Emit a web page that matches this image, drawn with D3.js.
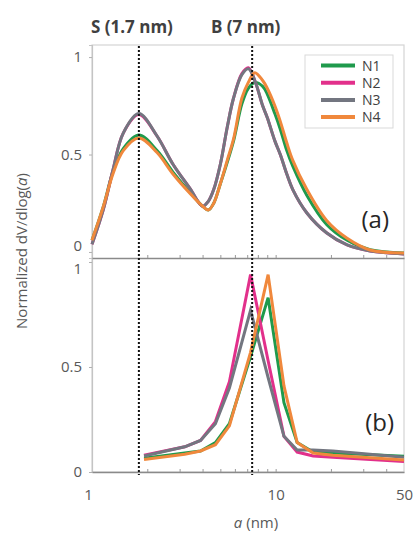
<!doctype html>
<html>
<head>
  <meta charset="UTF-8">
  <title>Pore size distribution</title>
  <script src="https://d3js.org/d3.v7.min.js"></script>
  <style>
    body { margin: 0; background: #fff; }
    text { font-family: "Open Sans", Lato, sans-serif; }
  </style>
</head>
<body>
<div id="svg_area"></div>
<script>
// series names and colours
var names = ["N1", "N2", "N3", "N4"];
var colours = ["#1f9a4c", "#e2308b", "#737680", "#f0883c"];

// panel (a): smooth distributions, pore width a (nm)
var aSmooth = [1, 1.15, 1.3, 1.48, 1.8, 2.26, 2.76, 3.42, 4.0, 4.3, 4.6, 5.0, 5.45, 5.9, 6.55, 7.1, 7.7, 8.5, 9.0, 9.9, 10.6, 11.5, 12.4, 14.8, 19, 24.5, 32.7, 50];
var smoothN1 = [0.06, 0.23, 0.41, 0.53, 0.60, 0.52, 0.41, 0.305, 0.235, 0.215, 0.25, 0.35, 0.46, 0.57, 0.76, 0.84, 0.87, 0.85, 0.81, 0.71, 0.63, 0.52, 0.44, 0.29, 0.14, 0.06, 0.012, -0.005];
var smoothN2 = [0.04, 0.215, 0.42, 0.61, 0.705, 0.595, 0.45, 0.325, 0.235, 0.26, 0.32, 0.45, 0.64, 0.79, 0.915, 0.945, 0.88, 0.75, 0.69, 0.57, 0.50, 0.40, 0.32, 0.20, 0.097, 0.036, 0.005, -0.01];
var smoothN3 = [0.04, 0.215, 0.42, 0.61, 0.71, 0.595, 0.45, 0.325, 0.235, 0.26, 0.32, 0.45, 0.64, 0.79, 0.91, 0.94, 0.88, 0.75, 0.69, 0.57, 0.50, 0.40, 0.32, 0.20, 0.097, 0.036, 0.005, -0.01];
var smoothN4 = [0.06, 0.23, 0.40, 0.52, 0.585, 0.51, 0.40, 0.30, 0.235, 0.215, 0.25, 0.35, 0.47, 0.58, 0.79, 0.87, 0.92, 0.88, 0.84, 0.75, 0.67, 0.56, 0.47, 0.32, 0.16, 0.07, 0.01, -0.005];

// panel (b): binned distributions
var aBins = [1.92, 3.2, 3.9, 4.7, 5.6, 7.3, 9.1, 11.1, 13.1, 16.0, 20.5, 50];
var binsN1 = [0.065, 0.09, 0.10, 0.14, 0.23, 0.55, 0.83, 0.33, 0.14, 0.095, 0.09, 0.075];
var binsN2 = [0.08, 0.12, 0.15, 0.24, 0.43, 0.94, 0.53, 0.17, 0.095, 0.076, 0.07, 0.05];
var binsN3 = [0.076, 0.12, 0.15, 0.23, 0.40, 0.77, 0.45, 0.17, 0.105, 0.105, 0.10, 0.07];
var binsN4 = [0.06, 0.085, 0.10, 0.13, 0.22, 0.57, 0.94, 0.41, 0.14, 0.09, 0.08, 0.057];

// marker lines and labels
var markers = [1.8, 7.45];
var markerLabels = ["S (1.7 nm)", "B (7 nm)"];
var yTicks = [0, 0.5, 1];
var xLabelTicks = [1, 10, 50];
var xMinorTicks = [2, 3, 4, 5, 6, 7, 8, 9, 10, 20, 30, 40];

function drawChart() {
  d3.select("#svg_area").selectAll("*").remove();

  var svg = d3.select("#svg_area").append("svg")
      .attr("width", 414)
      .attr("height", 534);

  var left = 92, right = 404;
  var topA = 45, midY = 258, botB = 472;

  var x = d3.scaleLog().domain([1, 50]).range([left, right]);
  var yA = d3.scaleLinear().domain([-0.031, 1.062]).range([midY, topA]);
  var yB = d3.scaleLinear().domain([0, 1.019]).range([botB, midY]);

  // frame
  svg.append("rect")
      .attr("x", left).attr("y", topA)
      .attr("width", right - left).attr("height", botB - topA)
      .attr("fill", "none").attr("stroke", "#d4d4d4").attr("stroke-width", 1.2);

  // y axes
  var yAxisA = d3.axisLeft(yA).tickValues(yTicks).tickSize(3).tickFormat(d3.format("~g"));
  var yAxisB = d3.axisLeft(yB).tickValues(yTicks).tickSize(3).tickFormat(d3.format("~g"));
  [[yAxisA, 0], [yAxisB, 1]].forEach(function (p) {
    var g = svg.append("g").attr("transform", "translate(" + left + ",0)").call(p[0]);
    g.select(".domain").attr("stroke", "#c4c4c4").attr("stroke-width", 1.2);
    g.selectAll(".tick line").attr("stroke", "#b0b0b0");
    g.selectAll("text").attr("fill", "#595959").attr("font-size", "15px").attr("x", -10);
    // keep the "0" of (a) and the "1" of (b) apart
    g.selectAll(".tick").filter(function (d) { return d === 0 && p[1] === 0; })
        .select("text").attr("dy", "-0.08em");
    g.selectAll(".tick").filter(function (d) { return d === 1 && p[1] === 1; })
        .select("text").attr("dy", "0.78em");
  });

  // x axes (ticks pointing inside)
  var xAxisTop = d3.axisBottom(x).tickValues(xMinorTicks).tickSizeInner(-3).tickSizeOuter(0).tickFormat("");
  var gA = svg.append("g").attr("transform", "translate(0," + midY + ")").call(xAxisTop);
  gA.select(".domain").attr("stroke", "#8a8a8a").attr("stroke-width", 1.4);
  gA.selectAll(".tick line").attr("stroke", "#9a9a9a");

  var gB = svg.append("g").attr("transform", "translate(0," + botB + ")").call(xAxisTop);
  gB.select(".domain").attr("stroke", "#8a8a8a").attr("stroke-width", 1.4);
  gB.selectAll(".tick line").attr("stroke", "#9a9a9a");

  var xAxisLab = d3.axisBottom(x).tickValues(xLabelTicks).tickSize(0).tickPadding(17).tickFormat(d3.format("d"));
  var gL = svg.append("g").attr("transform", "translate(0," + botB + ")").call(xAxisLab);
  gL.select(".domain").remove();
  gL.selectAll("text").attr("fill", "#595959").attr("font-size", "15px");
  gL.selectAll(".tick").filter(function (d) { return d === 1; }).select("text").attr("x", -4);

  // curves
  var seriesA = [smoothN1, smoothN2, smoothN3, smoothN4];
  var seriesB = [binsN1, binsN2, binsN3, binsN4];

  var lineA = d3.line()
      .x(function (d) { return x(d[0]); })
      .y(function (d) { return yA(d[1]); })
      .curve(d3.curveCatmullRom.alpha(0.5));
  var lineB = d3.line()
      .x(function (d) { return x(d[0]); })
      .y(function (d) { return yB(d[1]); });

  seriesA.forEach(function (s, i) {
    svg.append("path")
        .datum(aSmooth.map(function (a, j) { return [a, s[j]]; }))
        .attr("d", lineA)
        .attr("fill", "none")
        .attr("stroke", colours[i])
        .attr("stroke-width", 3);
  });
  seriesB.forEach(function (s, i) {
    svg.append("path")
        .datum(aBins.map(function (a, j) { return [a, s[j]]; }))
        .attr("d", lineB)
        .attr("fill", "none")
        .attr("stroke", colours[i])
        .attr("stroke-width", 3)
        .attr("stroke-linejoin", "miter");
  });

  // dotted marker lines
  svg.selectAll(".marker").data(markers).enter().append("line")
      .attr("x1", function (d) { return x(d); })
      .attr("x2", function (d) { return x(d); })
      .attr("y1", topA + 1).attr("y2", botB + 3)
      .attr("stroke", "#111").attr("stroke-width", 2)
      .attr("stroke-dasharray", "2,2");

  svg.selectAll(".mlabel").data(markerLabels).enter().append("text")
      .attr("x", function (d, i) { return i === 0 ? 91 : 211; })
      .attr("y", 33)
      .attr("font-size", "17px").attr("font-weight", "bold")
      .attr("fill", "#404040")
      .text(function (d) { return d; });

  // panel labels
  svg.append("text").attr("x", 389).attr("y", 228).attr("text-anchor", "end")
      .attr("font-size", "24px").attr("fill", "#262626").text("(a)");
  svg.append("text").attr("x", 394).attr("y", 431).attr("text-anchor", "end")
      .attr("font-size", "24px").attr("fill", "#262626").text("(b)");

  // legend
  var lg = svg.append("g");
  lg.append("rect").attr("x", 305).attr("y", 55).attr("width", 88).attr("height", 73)
      .attr("fill", "#fff").attr("stroke", "#d9d9d9");
  names.forEach(function (n, i) {
    var yy = 65.5 + i * 17.2;
    lg.append("line").attr("x1", 321).attr("x2", 355).attr("y1", yy).attr("y2", yy)
        .attr("stroke", colours[i]).attr("stroke-width", 4);
    lg.append("text").attr("x", 362).attr("y", yy + 5)
        .attr("font-family", "Lato, sans-serif")
        .attr("font-size", "14px").attr("fill", "#404040").text(n);
  });

  // axis titles
  var yt = svg.append("text")
      .attr("transform", "translate(27,251) rotate(-90)")
      .attr("text-anchor", "middle")
      .attr("font-size", "15px").attr("fill", "#595959");
  yt.append("tspan").text("Normalized dV/dlog(");
  yt.append("tspan").attr("font-style", "italic").text("a");
  yt.append("tspan").text(")");

  var xt = svg.append("text")
      .attr("x", 256).attr("y", 528)
      .attr("text-anchor", "middle")
      .attr("font-size", "15px").attr("fill", "#595959");
  xt.append("tspan").attr("font-style", "italic").text("a");
  xt.append("tspan").text(" (nm)");
}

drawChart();
</script>
</body>
</html>
